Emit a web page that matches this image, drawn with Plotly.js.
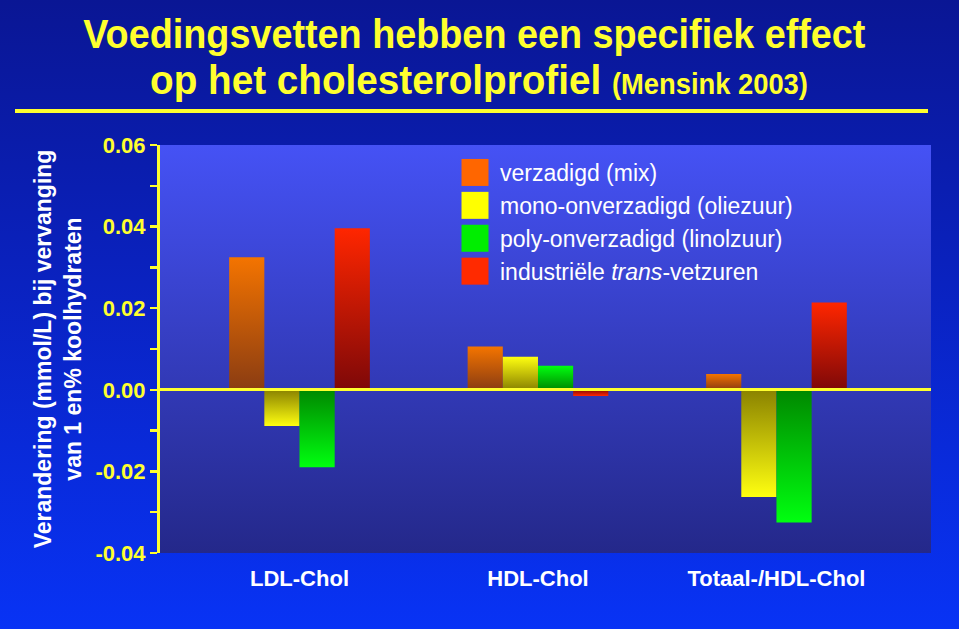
<!DOCTYPE html>
<html>
<head>
<meta charset="utf-8">
<script src="https://cdn.plot.ly/plotly-3.0.1.min.js"></script>
<style>
  html, body { margin:0; padding:0; width:959px; height:629px; overflow:hidden;
    background: linear-gradient(to bottom, #0a1694 0%, #0a22c0 45%, #0833f5 100%); }
  #chart { width:959px; height:629px; }
</style>
</head>
<body>
<div id="chart"></div>
<script>
const categories = ['LDL-Chol', 'HDL-Chol', 'Totaal-/HDL-Chol'];
const seriesNames = ['verzadigd (mix)', 'mono-onverzadigd (oliezuur)', 'poly-onverzadigd (linolzuur)', 'industriële <i>trans</i>-vetzuren'];
const verzadigd = [0.0325, 0.0106, 0.0039];
const mono = [-0.0089, 0.0081, -0.0263];
const poly = [-0.0190, 0.0059, -0.0325];
const trans = [0.0396, -0.0015, 0.0214];
const yTickVals = [-0.04, -0.02, 0.00, 0.02, 0.04, 0.06];
const yTickText = ['-0.04', '-0.02', '0.00', '0.02', '0.04', '0.06'];

const allSeries = [verzadigd, mono, poly, trans];
const legendColors = ['#ff6600', '#ffff00', '#00ee00', '#ff2a00'];
const gradColors = [
  ['#f47400', '#8a3c12'],
  ['#ffff10', '#8a8200'],
  ['#00ff10', '#008800'],
  ['#ff2600', '#7e0808']
];

const data = allSeries.map((s, i) => ({
  type: 'bar',
  x: categories,
  y: s,
  name: seriesNames[i],
  legendgroup: 'g' + i,
  marker: { color: legendColors[i], line: { width: 0 } },
  hoverinfo: 'skip'
}));

const W = 959, H = 629, L = 160, R = 28, T = 145, B = 76;
const pw = W - L - R, ph = H - T - B;
const px = v => (v - L) / pw;
const py = v => (H - B - v) / ph;
const titleFont = 'Liberation Sans, Arial, sans-serif';

const layout = {
  width: W, height: H,
  margin: { l: L, r: R, t: T, b: B },
  paper_bgcolor: 'rgba(0,0,0,0)',
  plot_bgcolor: '#3540c0',
  showlegend: true,
  barmode: 'group',
  bargap: 0.41,
  bargroupgap: 0,
  font: { family: 'Liberation Sans, Arial, sans-serif', color: '#ffffff' },
  title: {
    text: 'Voedingsvetten hebben een specifiek effect',
    font: { family: titleFont, size: 41, weight: 'bold', color: '#ffff2e' },
    x: 0.5, xanchor: 'center', xref: 'container',
    y: 1 - 19 / H, yanchor: 'top', yref: 'container'
  },
  annotations: [{
    text: 'op het cholesterolprofiel <span style="font-size:29px">(Mensink 2003)</span>',
    xref: 'paper', yref: 'paper', x: px(479.5), y: py(80), xanchor: 'center', yanchor: 'middle',
    showarrow: false,
    font: { family: titleFont, size: 41, weight: 'bold', color: '#ffff2e' }
  }],
  shapes: [{
    type: 'line', xref: 'paper', yref: 'paper',
    x0: px(15), x1: px(928), y0: py(111), y1: py(111),
    line: { color: '#ffff2e', width: 4 }
  }],
  legend: {
    x: px(460), y: py(151), xanchor: 'left', yanchor: 'top',
    bgcolor: 'rgba(0,0,0,0)', borderwidth: 0,
    font: { family: 'Liberation Sans, Arial, sans-serif', size: 23, color: '#ffffff' },
    tracegroupgap: 7,
    traceorder: 'normal'
  },
  xaxis: {
    type: 'category',
    range: [-0.585, 2.648],
    showgrid: false, zeroline: false, showline: false,
    ticks: '',
    ticklabelstandoff: 10,
    tickfont: { family: 'Liberation Sans, Arial, sans-serif', size: 22, weight: 'bold', color: '#ffffff' },
    fixedrange: true
  },
  yaxis: {
    range: [-0.04, 0.06],
    tickmode: 'array', tickvals: yTickVals, ticktext: yTickText,
    showgrid: false,
    zeroline: true, zerolinecolor: '#ffff2e', zerolinewidth: 3,
    zerolinelayer: 'above traces',
    showline: true, linecolor: '#ffff2e', linewidth: 3,
    ticks: 'outside', ticklen: 7, tickwidth: 2.5, tickcolor: '#ffff2e',
    minor: { dtick: 0.01, tick0: 0, ticks: 'outside', ticklen: 7, tickwidth: 2.5, tickcolor: '#ffff2e', showgrid: false },
    tickfont: { family: 'Liberation Sans, Arial, sans-serif', size: 22, weight: 'bold', color: '#ffff2e' },
    title: {
      text: 'Verandering (mmol/L) bij vervanging<br>van 1 en% koolhydraten',
      font: { family: 'Liberation Sans, Arial, sans-serif', size: 23, weight: 'bold', color: '#ffffff' },
      standoff: 8
    },
    fixedrange: true
  }
};

function squeeze(el, targetW, targetCx) {
  const bb = el.getBBox();
  const rect = el.getBoundingClientRect();
  const offset = rect.left - bb.x;
  const s = targetW / bb.width;
  const cx = bb.x + bb.width / 2;
  const tcx = targetCx - offset;
  const prev = el.getAttribute('transform') || '';
  el.setAttribute('transform', prev + ' translate(' + tcx + ',0) scale(' + s + ',1) translate(' + (-cx) + ',0)');
}

Plotly.newPlot('chart', data, layout, { staticPlot: true, displayModeBar: false }).then(gd => {
  const NS = 'http://www.w3.org/2000/svg';
  const svg = gd.querySelector('svg.main-svg');
  let defs = svg.querySelector('defs');
  if (!defs) { defs = document.createElementNS(NS, 'defs'); svg.insertBefore(defs, svg.firstChild); }
  function addGrad(id, c0, c1) {
    const lg = document.createElementNS(NS, 'linearGradient');
    lg.setAttribute('id', id);
    lg.setAttribute('x1', '0'); lg.setAttribute('y1', '0');
    lg.setAttribute('x2', '0'); lg.setAttribute('y2', '1');
    [[0, c0], [1, c1]].forEach(([o, c]) => {
      const st = document.createElementNS(NS, 'stop');
      st.setAttribute('offset', o);
      st.setAttribute('stop-color', c);
      lg.appendChild(st);
    });
    defs.appendChild(lg);
  }
  gradColors.forEach((gc, i) => {
    addGrad('gp' + i, gc[0], gc[1]);
    addGrad('gn' + i, gc[1], gc[0]);
  });
  addGrad('plotbg', '#4552f5', '#24288a');

  gd.querySelectorAll('.barlayer .trace.bars').forEach((tr, i) => {
    tr.querySelectorAll('.point path').forEach((p, j) => {
      const v = allSeries[i][j];
      p.style.fill = 'url(#' + (v >= 0 ? 'gp' : 'gn') + i + ')';
    });
  });
  gd.querySelectorAll('rect.bg').forEach(r => {
    const w = parseFloat(r.getAttribute('width'));
    if (w && w < 900) r.style.fill = 'url(#plotbg)';
  });
  gd.querySelectorAll('.legend .legendpoints path').forEach(p => {
    p.removeAttribute('transform');
    p.setAttribute('d', 'M28.5,13.5H1.5V-13.5H28.5Z');
  });
  const t1 = gd.querySelector('.gtitle');
  if (t1) squeeze(t1, 783, 474.5);
  const t2 = gd.querySelector('.annotation-text');
  if (t2) squeeze(t2, 658, 479);
});
</script>
</body>
</html>
